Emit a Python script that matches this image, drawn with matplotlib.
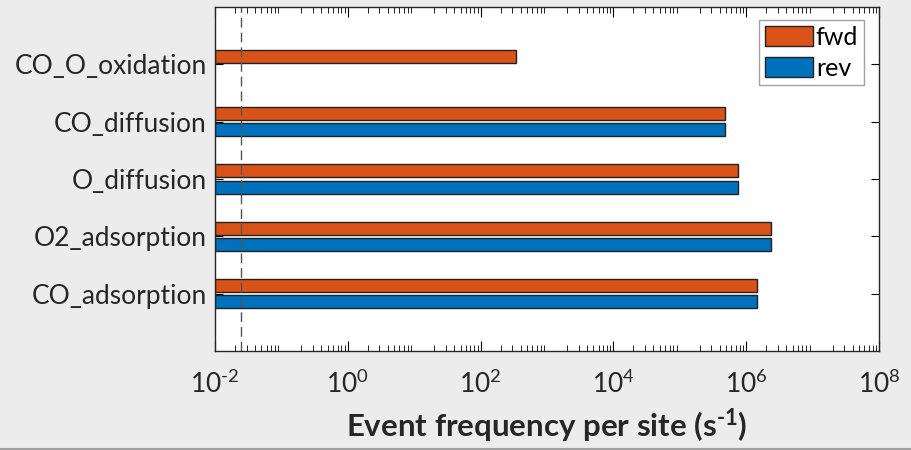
import matplotlib
matplotlib.use("Agg")
import matplotlib.pyplot as plt
from matplotlib.lines import Line2D
import numpy as np
from matplotlib.ticker import LogLocator, NullFormatter, FixedLocator

categories = ["CO_adsorption", "O2_adsorption", "O_diffusion", "CO_diffusion", "CO_O_oxidation"]
fwd = [1.45e6, 2.4e6, 7.6e5, 4.8e5, 340.0]
rev = [1.45e6, 2.4e6, 7.6e5, 4.8e5, 0.0]
threshold = 0.025
series_labels = ["fwd", "rev"]
xtick_exps = [-2, 0, 2, 4, 6, 8]

plt.rcParams['font.family'] = ['Lato', 'DejaVu Sans']
plt.rcParams['mathtext.fontset'] = 'custom'
plt.rcParams['mathtext.rm'] = 'Lato'
plt.rcParams['mathtext.bf'] = 'Lato:bold'
plt.rcParams['mathtext.it'] = 'Lato:italic'
plt.rcParams['mathtext.fallback'] = 'cm'

HY = '\u2010'

fig = plt.figure(figsize=(9.11, 4.5), dpi=100, facecolor='#ececec')
ax = fig.add_axes([215/911, 1-351/450, (879-215)/911, (351-7)/450])
ax.set_facecolor('white')

y = np.arange(1, len(categories) + 1)
h = 0.23
off = 0.142
rev_plot = [v if v > 0 else np.nan for v in rev]
ax.barh(y + off, fwd, height=h, left=1e-2, color='#D95319', edgecolor='#222222', linewidth=1.0, label=series_labels[0])
ax.barh(y - off, rev_plot, height=h, left=1e-2, color='#0072BD', edgecolor='#222222', linewidth=1.0, label=series_labels[1])
ax.axvline(threshold, color='#555555', linestyle=(0, (7, 3.6)), linewidth=1.0)

ax.set_xscale('log')
ax.set_xlim(1e-2, 1e8)
ax.set_ylim(0, 6)
ax.set_yticks(y)
ax.set_yticklabels(categories, fontsize=19, color='#262626')
xt = [10.0**e for e in xtick_exps]
ax.xaxis.set_major_locator(FixedLocator(xt))
ax.set_xticklabels(['$\\mathrm{10^{%s}}$' % ('%d' % e if e >= 0 else HY + '%d' % (-e)) for e in xtick_exps])
ax.xaxis.set_minor_locator(LogLocator(base=10, subs=np.arange(2, 10), numticks=100))
ax.xaxis.set_minor_formatter(NullFormatter())
ax.tick_params(axis='x', which='major', labelsize=19, labelcolor='#262626', direction='in', length=7, top=True, pad=14)
ax.tick_params(axis='x', which='minor', direction='in', length=4, top=True)
ax.tick_params(axis='y', direction='in', length=6, right=True, pad=6)
for s in ax.spines.values():
    s.set_color('#262626')
    s.set_linewidth(1.0)

ax.set_xlabel('Event frequency per site (s$^{\\mathbf{%s1}}$)' % HY, fontsize=22.5, fontweight='bold', color='#262626', labelpad=6)

leg = ax.legend(loc='upper right', bbox_to_anchor=(0.977, 0.962), fontsize=18, frameon=True, fancybox=False,
                edgecolor='#8a8a8a', handlelength=1.92, handleheight=0.85, handletextpad=0.12, borderpad=0.22,
                labelspacing=0.32, borderaxespad=0.0)
leg.get_frame().set_linewidth(1.0)

fig.add_artist(Line2D([0, 1], [0.002, 0.002], transform=fig.transFigure, color='#a0a0a0', linewidth=1.5))

fig.savefig('out.png', dpi=100, facecolor=fig.get_facecolor())
